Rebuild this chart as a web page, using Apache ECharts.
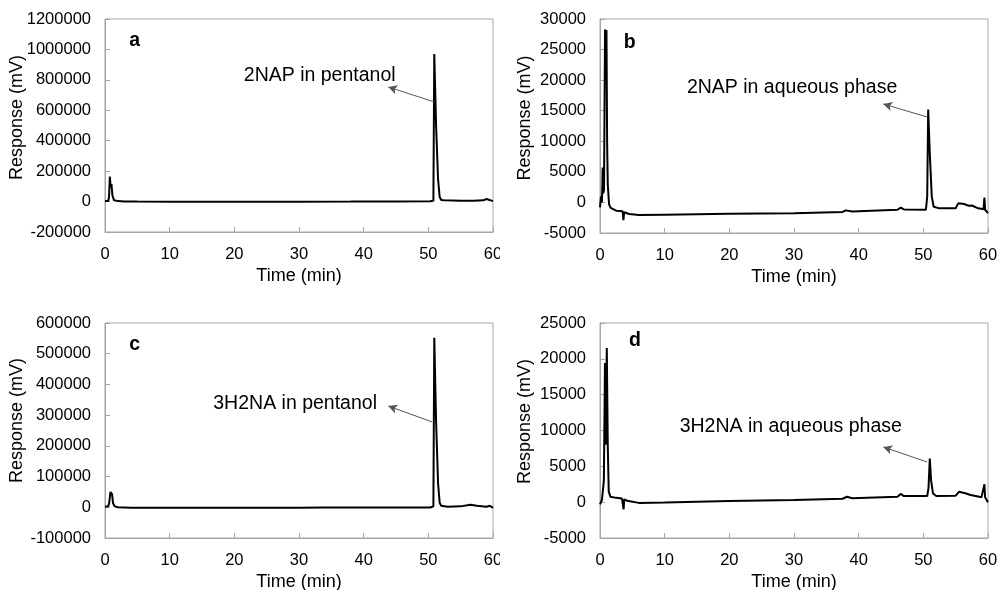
<!DOCTYPE html>
<html>
<head>
<meta charset="utf-8">
<script src="https://cdn.jsdelivr.net/npm/echarts@6/dist/echarts.min.js"></script>
<style>
html,body{margin:0;padding:0;background:#fff;width:1001px;height:590px;overflow:hidden;}
.p{position:absolute;overflow:hidden;}
</style>
</head>
<body>
<div id="a" class="p" style="left:0;top:0;width:500px;height:290px;"></div>
<div id="b" class="p" style="left:500px;top:0;width:501px;height:290px;"></div>
<div id="c" class="p" style="left:0;top:290px;width:500px;height:300px;"></div>
<div id="d" class="p" style="left:500px;top:290px;width:501px;height:300px;"></div>
<script>
// ---- data (time in min, response in mV) ----
const xTicks = [0, 10, 20, 30, 40, 50, 60];

const timeA = [0, 0.5, 0.62, 0.75, 0.88, 1.0, 1.15, 1.4, 2, 3, 5, 10, 20, 30, 38, 45, 50.3, 50.78, 50.92, 51.2, 51.5, 51.75, 52.0, 52.5, 55, 57, 58.5, 59.0, 59.3, 60];
const respA = [3000, 4000, 30000, 165000, 90000, 115000, 40000, 8000, 3000, 1000, 0, -500, -1000, -500, 0, 1000, 2000, 5000, 970000, 500000, 150000, 30000, 10000, 8000, 6000, 5000, 8000, 17000, 8000, 3000];

const timeB = [0, 0.15, 0.3, 0.42, 0.5, 0.62, 0.78, 0.88, 1.0, 1.1, 1.2, 1.4, 1.65, 2.5, 3.5, 3.62, 3.75, 4.5, 6, 10, 20, 30, 37.5, 38, 39, 46, 46.5, 47, 50.4, 50.6, 50.75, 51.0, 51.3, 51.6, 52.5, 55, 55.4, 56.3, 57, 57.5, 58.5, 59.3, 59.45, 59.55, 60];
const respB = [-800, 1000, 0, 5700, 1500, 2000, 28300, 26000, 28200, 10000, 3000, -300, -900, -1350, -1450, -2900, -1600, -1900, -2060, -2000, -1850, -1780, -1560, -1300, -1480, -1200, -850, -1150, -1200, 1000, 15200, 8000, 1000, -700, -970, -950, -150, -250, -540, -500, -970, -1100, 800, -1200, -1740];

const timeC = [0, 0.5, 0.65, 0.85, 1.0, 1.1, 1.25, 1.5, 2, 4, 10, 20, 30, 34, 34.3, 34.6, 40, 50.3, 50.78, 50.92, 51.2, 51.5, 51.75, 52.0, 53, 55, 56.5, 57.5, 59, 59.5, 60];
const respC = [2000, 3000, 15000, 50000, 44000, 42000, 12000, 3000, 0, -1500, -1500, -1500, -1500, -1000, 1000, -1000, -1000, -500, 3000, 552000, 280000, 80000, 15000, 5000, 2000, 3000, 8000, 5000, 2000, 5000, -2000];

const timeD = [0, 0.3, 0.6, 0.77, 0.88, 1.05, 1.2, 1.35, 1.6, 2.5, 3.4, 3.55, 3.65, 3.75, 4.2, 6, 10, 20, 30, 37.5, 38.2, 39, 46, 46.5, 47, 50.6, 50.8, 51.0, 51.2, 51.5, 52, 55, 55.5, 56.5, 57.3, 57.6, 57.9, 59.0, 59.3, 59.45, 59.55, 60];
const respD = [-300, 300, 3000, 19400, 8000, 21500, 8000, 1500, 770, 600, 500, 300, -1000, 400, 200, -100, -50, 150, 300, 480, 750, 550, 750, 1150, 850, 850, 2000, 6100, 3000, 1200, 850, 900, 1450, 1250, 1000, 1250, 900, 700, 500, 2500, 700, 0];

const labelsText = ['a', 'b', 'c', 'd'];
const noteText = ['2NAP in pentanol', '2NAP in aqueous phase', '3H2NA in pentanol', '3H2NA in aqueous phase'];
// annotation anchor points in data coordinates: [text], [arrow start on peak], [arrow head]
const noteText_pos = [[33.2, 825000], [29.7, 18700], [29.4, 336000], [29.5, 10490]];
const arrowFrom = [[51.0, 654000], [50.6, 13970], [50.6, 277700], [50.6, 5600]];
const arrowTo = [[43.8, 753000], [43.8, 16100], [43.8, 329800], [43.8, 7700]];
const panelLabelPos = [[4.6, 1055000], [4.6, 26200], [4.6, 530000], [5.4, 22500]];

const yMin = [-200000, -5000, -100000, -5000];
const yMax = [1200000, 30000, 600000, 25000];
const yStep = [200000, 5000, 100000, 5000];

// ---- layout ----
const grids = [
  {left: 105, top: 19, width: 388, height: 213, yGap: 79, yShift: 16},
  {left: 100, top: 19, width: 388, height: 214, yGap: 66, yShift: 16},
  {left: 105, top: 33, width: 388, height: 215, yGap: 79, yShift: 20},
  {left: 100, top: 33, width: 388, height: 215, yGap: 66, yShift: 18}
];
const times = [timeA, timeB, timeC, timeD];
const resps = [respA, respB, respC, respD];
const ids = ['a', 'b', 'c', 'd'];
const FONT = '"Liberation Sans", Arial, sans-serif';
const AXC = '#a6a6a6';

ids.forEach((id, i) => {
  const chart = echarts.init(document.getElementById(id), null, {renderer: 'canvas'});
  const g = grids[i];
  const pts = times[i].map((t, k) => [t, resps[i][k]]);
  chart.setOption({
    animation: false,
    backgroundColor: '#fff',
    grid: {left: g.left, top: g.top, width: g.width, height: g.height, containLabel: false, outerBoundsMode: 'none', show: true, borderColor: AXC, borderWidth: 1, backgroundColor: 'transparent'},
    xAxis: {
      type: 'value', min: xTicks[0], max: xTicks[xTicks.length - 1], interval: 10,
      name: 'Time (min)', nameLocation: 'middle', nameGap: 35, nameMoveOverlap: false,
      nameTextStyle: {fontFamily: FONT, fontSize: 18, color: '#000'},
      axisLine: {show: true, onZero: false, lineStyle: {color: AXC, width: 1}},
      axisTick: {show: true, inside: true, length: 5, lineStyle: {color: AXC}},
      axisLabel: {fontFamily: FONT, fontSize: 16.5, color: '#000', margin: 14, formatter: v => String(v)},
      splitLine: {show: false}
    },
    yAxis: {
      type: 'value', min: yMin[i], max: yMax[i], interval: yStep[i],
      name: 'Response (mV)', nameLocation: 'middle', nameGap: g.yGap, nameMoveOverlap: false,
      nameTextStyle: {fontFamily: FONT, fontSize: 18, color: '#000', padding: [0, 0, 0, g.yShift]},
      axisLine: {show: true, onZero: false, lineStyle: {color: AXC, width: 1}},
      axisTick: {show: true, inside: true, length: 5, lineStyle: {color: AXC}},
      axisLabel: {fontFamily: FONT, fontSize: 16.5, color: '#000', margin: 14, formatter: v => String(v)},
      splitLine: {show: false}
    },
    series: [{
      type: 'line', data: pts, showSymbol: false, symbol: 'none',
      lineStyle: {color: '#000', width: 2}, z: 3,
      markLine: {
        silent: true, symbol: ['none', 'arrow'], symbolSize: [7, 9],
        lineStyle: {color: '#555', width: 1, type: 'solid'},
        label: {show: false},
        data: [[{coord: arrowFrom[i]}, {coord: arrowTo[i]}]]
      },
      markPoint: {
        silent: true, symbol: 'circle', symbolSize: 0,
        data: [
          {coord: noteText_pos[i], label: {show: true, position: 'inside', formatter: noteText[i], fontFamily: FONT, fontSize: 19.5, color: '#000'}},
          {coord: panelLabelPos[i], label: {show: true, position: 'inside', formatter: labelsText[i], fontFamily: FONT, fontSize: 19.5, fontWeight: 'bold', color: '#000'}}
        ]
      }
    }]
  });
});
</script>
</body>
</html>
